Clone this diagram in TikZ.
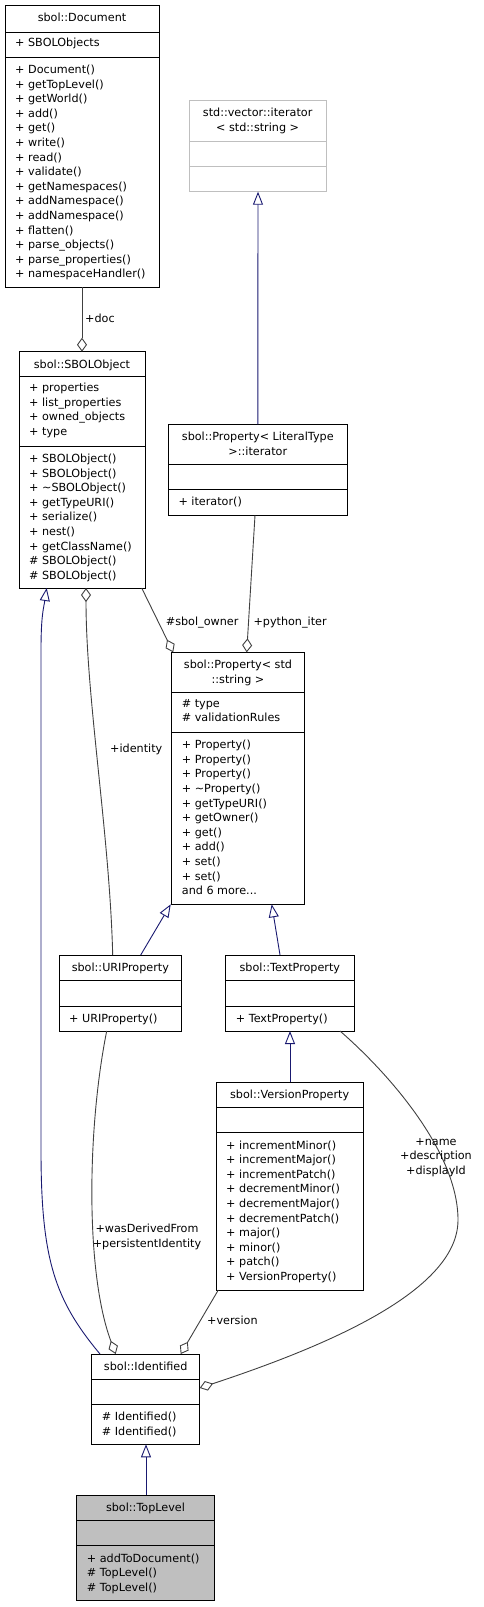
\documentclass[tikz,border=0pt]{standalone}
\usepackage{fontspec}
\setmainfont{DejaVu Sans}
\usetikzlibrary{arrows.meta,calc}
\definecolor{inhblue}{HTML}{191970}
\definecolor{agggray}{HTML}{404040}
\definecolor{lgray}{HTML}{BFBFBF}
\definecolor{tlfill}{HTML}{BFBFBF}
\newcommand\uml{\fontsize{11.2}{14.6}\selectfont}
\newcommand\umlbox[9]{%
  \pgfmathsetmacro\bw{#4-#2}\pgfmathsetmacro\bh{#5-#3}%
  \node[clsbox,minimum width=\bw pt,minimum height=\bh pt,#8] (#1) at (#2,#3) {};
  \draw[sepline,draw=#9] (#2,#6) -- (#4,#6) (#2,#7) -- (#4,#7);
}
\begin{document}
\begin{tikzpicture}[x=1pt,y=-1pt,
  clsbox/.style={draw=black,line width=1pt,fill=white,anchor=north west,inner sep=0pt,outer sep=0pt},
  sepline/.style={line width=1pt},
  ttl/.style={font=\uml,anchor=base,inner sep=0pt},
  ttltwo/.style={font=\uml,anchor=north,inner sep=0pt,align=center},
  items/.style={font=\uml,anchor=north west,inner sep=0pt,align=left},
  lbl/.style={font=\uml,inner sep=0pt},
  inh/.style={draw=inhblue,line width=0.9pt,-{Triangle[open,length=13pt,width=10pt,line width=0.9pt]}},
  agg/.style={draw=agggray,line width=0.9pt,-{Diamond[open,length=14pt,width=10pt,line width=0.9pt]}}]
\useasboundingbox (0,0) rectangle (483,1607);

% ---------- class boxes ----------
\umlbox{doc}{5}{5}{159}{287}{32}{57}{}{black}
\node[ttl] (doc-t) at (82,21.4) {sbol::Document};
\node[items] (doc-a) at (15,36.5) {\strut + SBOLObjects};
\node[items] (doc-m) at (15,63) {\strut + Document()\\+ getTopLevel()\\+ getWorld()\\+ add()\\+ get()\\+ write()\\+ read()\\+ validate()\\+ getNamespaces()\\+ addNamespace()\\+ addNamespace()\\+ flatten()\\+ parse\_objects()\\+ parse\_properties()\\+ namespaceHandler()};

\umlbox{vec}{189.3}{100.7}{326}{191.7}{141}{166}{draw=lgray}{lgray}
\node[ttltwo] (vec-t) at (257.65,106.5) {\strut std::vector::iterator\\< std::string >};

\umlbox{litit}{168.3}{424.3}{347.3}{515.3}{464.3}{489.3}{}{black}
\node[ttltwo] (litit-t) at (257.8,430.3) {\strut sbol::Property< LiteralType\\>::iterator};
\node[items] (litit-m) at (178.3,495.3) {\strut + iterator()};

\umlbox{sbol}{19}{351.7}{145}{588}{376.7}{446}{}{black}
\node[ttl] (sbol-t) at (82,368.1) {sbol::SBOLObject};
\node[items] (sbol-a) at (29,381.2) {\strut + properties\\+ list\_properties\\+ owned\_objects\\+ type};
\node[items] (sbol-m) at (29,452) {\strut + SBOLObject()\\+ SBOLObject()\\+ \textasciitilde SBOLObject()\\+ getTypeURI()\\+ serialize()\\+ nest()\\+ getClassName()\\\# SBOLObject()\\\# SBOLObject()};

\umlbox{prop}{171.7}{652.3}{304.3}{904.3}{692.3}{732.3}{}{black}
\node[ttltwo] (prop-t) at (238,658.3) {\strut sbol::Property< std\\::string >};
\node[items] (prop-a) at (181.7,696.8) {\strut \# type\\\# validationRules};
\node[items] (prop-m) at (181.7,738.3) {\strut + Property()\\+ Property()\\+ Property()\\+ \textasciitilde Property()\\+ getTypeURI()\\+ getOwner()\\+ get()\\+ add()\\+ set()\\+ set()\\and 6 more...};

\umlbox{uri}{59}{955}{181.7}{1031}{980.3}{1006}{}{black}
\node[ttl] (uri-t) at (120.35,971.4) {sbol::URIProperty};
\node[items] (uri-m) at (69,1012) {\strut + URIProperty()};

\umlbox{text}{225.7}{955}{354}{1031}{980.3}{1006}{}{black}
\node[ttl] (text-t) at (289.85,971.4) {sbol::TextProperty};
\node[items] (text-m) at (235.7,1012) {\strut + TextProperty()};

\umlbox{ver}{216}{1082.3}{363.3}{1290}{1107.3}{1132.7}{}{black}
\node[ttl] (ver-t) at (289.65,1098.7) {sbol::VersionProperty};
\node[items] (ver-m) at (226,1138.7) {\strut + incrementMinor()\\+ incrementMajor()\\+ incrementPatch()\\+ decrementMinor()\\+ decrementMajor()\\+ decrementPatch()\\+ major()\\+ minor()\\+ patch()\\+ VersionProperty()};

\umlbox{ident}{91.7}{1354}{199.7}{1444.3}{1379.3}{1404.3}{}{black}
\node[ttl] (ident-t) at (145.7,1370.4) {sbol::Identified};
\node[items] (ident-m) at (101.7,1410.3) {\strut \# Identified()\\\# Identified()};

\umlbox{top}{76.7}{1495}{214.3}{1600}{1520.3}{1545.7}{fill=tlfill}{black}
\node[ttl] (top-t) at (145.5,1511.4) {sbol::TopLevel};
\node[items] (top-m) at (86.7,1551.7) {\strut + addToDocument()\\\# TopLevel()\\\# TopLevel()};

% ---------- connectors ----------
\draw[agg] ($(doc.south west)+(77,0)$) -- ($(sbol.north west)+(63,0)$);
\draw[inh] ($(litit.north west)+(89.5,0)$) -- ($(vec.south west)+(68.7,0)$);
\draw[agg] ($(litit.south west)+(86.7,0)$) -- ($(prop.north west)+(75,0)$);
\draw[agg] ($(sbol.south east)+(-3.3,0)$) -- ($(prop.north west)+(1.5,0)$);
\draw[inh] ($(uri.north west)+(81.7,0)$) -- ($(prop.south west)+(-1,0)$);
\draw[inh] ($(text.north west)+(54.3,0)$) -- ($(prop.south west)+(100,0)$);
\draw[inh] ($(ver.north west)+(74,0)$) -- ($(text.south west)+(64.3,0)$);
\draw[agg] ($(uri.north west)+(53.7,0)$) .. controls +(-3,-120) and +(0,110) .. ($(sbol.south west)+(67,0)$);
\draw[agg] ($(uri.south west)+(47.7,0)$) .. controls +(-20,100) and +(-30,-80) .. ($(ident.north west)+(24,0)$);
\draw[agg] ($(ver.south west)+(2.3,0)$) -- ($(ident.north west)+(89,0)$);
\coordinate (nm) at (458,1220);
\draw[agg] ($(text.south west)+(114.3,0)$) .. controls +(45,39) and +(0,-70) .. (nm) .. controls +(0,70) and +(130,-43) .. ($(ident.north east)+(0,34)$);
\coordinate (ia) at (41,1150);
\coordinate (ib) at (41,650);
\draw[inh] ($(ident.north west)+(8.3,0)$) .. controls +(-45,-54) and +(0,110) .. (ia) -- (ib) .. controls +(0,-35) and +(-3,20) .. ($(sbol.south west)+(27.7,0)$);
\draw[inh] ($(top.north west)+(69.3,0)$) -- ($(ident.south west)+(54.3,0)$);

% ---------- labels ----------
\node[lbl,anchor=base west] (l-doc) at (85,322.7) {+doc};
\node[lbl,anchor=base west] (l-owner) at (165.7,625) {\#sbol\_owner};
\node[lbl,anchor=base west] (l-py) at (253.3,625) {+python\_iter};
\node[lbl,anchor=base west] (l-id) at (110,752.5) {+identity};
\node[lbl,anchor=north,align=center] (l-was) at (147,1222.3) {\strut +wasDerivedFrom\\+persistentIdentity};
\node[lbl,anchor=base west] (l-ver) at (207,1324) {+version};
\node[lbl,anchor=north,align=center] (l-name) at (436,1134.8) {\strut +name\\+description\\+displayId};
\end{tikzpicture}
\end{document}
